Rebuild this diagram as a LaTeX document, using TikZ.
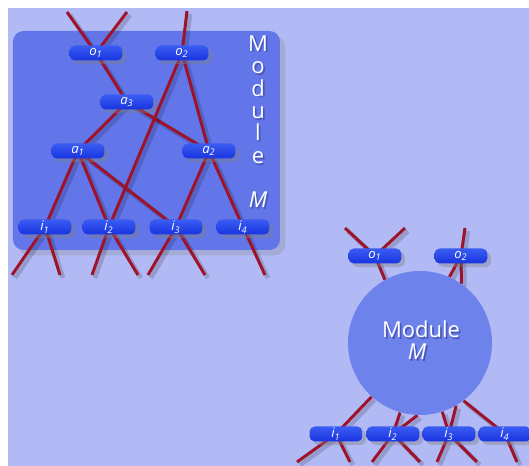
\documentclass[tikz,border=0pt]{standalone}
\usepackage{fontspec}
\setmainfont{Open Sans}
\usetikzlibrary{shadows}

\definecolor{bgviolet}{RGB}{178,186,245}
\definecolor{modblue}{RGB}{98,118,234}
\definecolor{ballblue}{RGB}{110,130,236}
\definecolor{pillblue}{RGB}{24,52,224}
\definecolor{pilltop}{RGB}{58,92,242}
\definecolor{wirered}{RGB}{158,18,42}
\definecolor{textshade}{RGB}{72,88,186}

\pgfdeclarelayer{back}
\pgfdeclarelayer{wires}
\pgfsetlayers{back,wires,main}

% white lettering with a soft dark copy behind it
\newcommand\shadedtext[1]{\rlap{\kern1pt\raisebox{-1pt}{\color{textshade}#1}}#1}

\tikzset{
  pill/.style={rectangle, rounded corners=3pt, minimum width=1.06cm, minimum height=0.3cm, inner sep=0pt,
    top color=pilltop, bottom color=pillblue, text=white, font=\fontsize{7.5}{8}\selectfont\itshape,
    drop shadow={shadow xshift=2pt, shadow yshift=-2pt, opacity=.4}},
  wire/.style={draw=wirered, line width=1.7pt,
    preaction={draw=black, opacity=.16, line width=2.6pt, transform canvas={shift={(3,3)}}}},
  modlabel/.style={text=white, font=\fontsize{12.5}{14}\selectfont, inner sep=0pt, anchor=base},
}

\begin{document}
\begin{tikzpicture}[x=0.02cm, y=-0.02cm]
    \useasboundingbox (0,0) rectangle (529,466);
    \begin{pgfonlayer}{back}
      \fill[white] (0,0) rectangle (529,466);
      \fill[bgviolet] (8,8) rectangle (529,466);
      % Module M, opened up
      \fill[modblue, rounded corners=6pt, drop shadow={shadow xshift=3pt, shadow yshift=-3pt, opacity=.25}]
        (13,31) rectangle (280,250);
    \end{pgfonlayer}

    % free wire ends
    \coordinate (o1u1) at (67,12);
    \coordinate (o1u2) at (127,12);
    \coordinate (o2u) at (187,11);
    \coordinate (i1d1) at (12,275);
    \coordinate (i1d2) at (60,275);
    \coordinate (i2d1) at (92,275);
    \coordinate (i2d2) at (138,275);
    \coordinate (i3d1) at (148,275);
    \coordinate (i3d2) at (205,275);
    \coordinate (i4d) at (265,275);

    % Nodes
    \node[pill] (o1) at (96,53) {o\textsubscript{1}};
    \node[pill] (o2) at (182,53) {o\textsubscript{2}};
    \node[pill] (a3) at (127,102) {a\textsubscript{3}};
    \node[pill] (a1) at (78,151) {a\textsubscript{1}};
    \node[pill] (a2) at (209,151) {a\textsubscript{2}};
    \node[pill] (i1) at (45,227) {i\textsubscript{1}};
    \node[pill] (i2) at (109,227) {i\textsubscript{2}};
    \node[pill] (i3) at (176,227) {i\textsubscript{3}};
    \node[pill] (i4) at (243,227) {i\textsubscript{4}};

    % vertical label
    \node[modlabel, font=\fontsize{12.5}{12.8}\selectfont, align=center, anchor=north] (modword) at (258,35)
      {\shadedtext{M}\\\shadedtext{o}\\\shadedtext{d}\\\shadedtext{u}\\\shadedtext{l}\\\shadedtext{e}};
    \node[modlabel, font=\fontsize{12.5}{14}\selectfont\itshape] (modM) at (258,208) {\shadedtext{M}};

    % Wires
    \begin{pgfonlayer}{wires}
    \foreach \a/\b in {o1/o1u1, o1/o1u2, o2/o2u, a3/o1, a1/a3, a2/a3, i2/o2, a2/o2,
                       i1/a1, i2/a1, i3/a1, i3/a2, i4/a2,
                       i1/i1d1, i1/i1d2, i2/i2d1, i2/i2d2, i3/i3d1, i3/i3d2, i4/i4d}
      \draw[wire] (\a.center) -- (\b.center);
    \end{pgfonlayer}

    % Module M, closed
    \node[circle, fill=ballblue, minimum size=2.88cm, inner sep=0pt] (mball) at (420,343) {};
    \node[modlabel] (mtxt) at (421,338) {\shadedtext{Module}};
    \node[modlabel, font=\fontsize{12.5}{14}\selectfont\itshape] (mtxtM) at (417,360) {\shadedtext{M}};

    \coordinate (mo1u1) at (345,228);
    \coordinate (mo1u2) at (405,228);
    \coordinate (mo2u) at (465,228);
    \coordinate (mi1d1) at (297,462);
    \coordinate (mi1d2) at (350,462);
    \coordinate (mi2d1) at (372,462);
    \coordinate (mi2d2) at (420,462);
    \coordinate (mi3d1) at (437,462);
    \coordinate (mi3d2) at (477,462);
    \coordinate (mi4d) at (517,462);

    \node[pill] (mo1) at (375,256) {o\textsubscript{1}};
    \node[pill] (mo2) at (461,256) {o\textsubscript{2}};
    \node[pill] (mi1) at (336,434) {i\textsubscript{1}};
    \node[pill] (mi2) at (393,434) {i\textsubscript{2}};
    \node[pill] (mi3) at (449,434) {i\textsubscript{3}};
    \node[pill] (mi4) at (505,434) {i\textsubscript{4}};

    \begin{pgfonlayer}{wires}
    \foreach \a/\b in {mo1/mo1u1, mo1/mo1u2, mo2/mo2u,
                       mi1/mi1d1, mi1/mi1d2, mi2/mi2d1, mi2/mi2d2, mi3/mi3d1, mi3/mi3d2, mi4/mi4d}
      \draw[wire] (\a.center) -- (\b.center);
    \foreach \a/\b in {mo1/119, mo2/55, mo2/66, mi1/228, mi2/254, mi2/268, mi3/288, mi3/300, mi4/307}
      \draw[wire] (\a.center) -- (mball.\b);
    \end{pgfonlayer}
\end{tikzpicture}
\end{document}
